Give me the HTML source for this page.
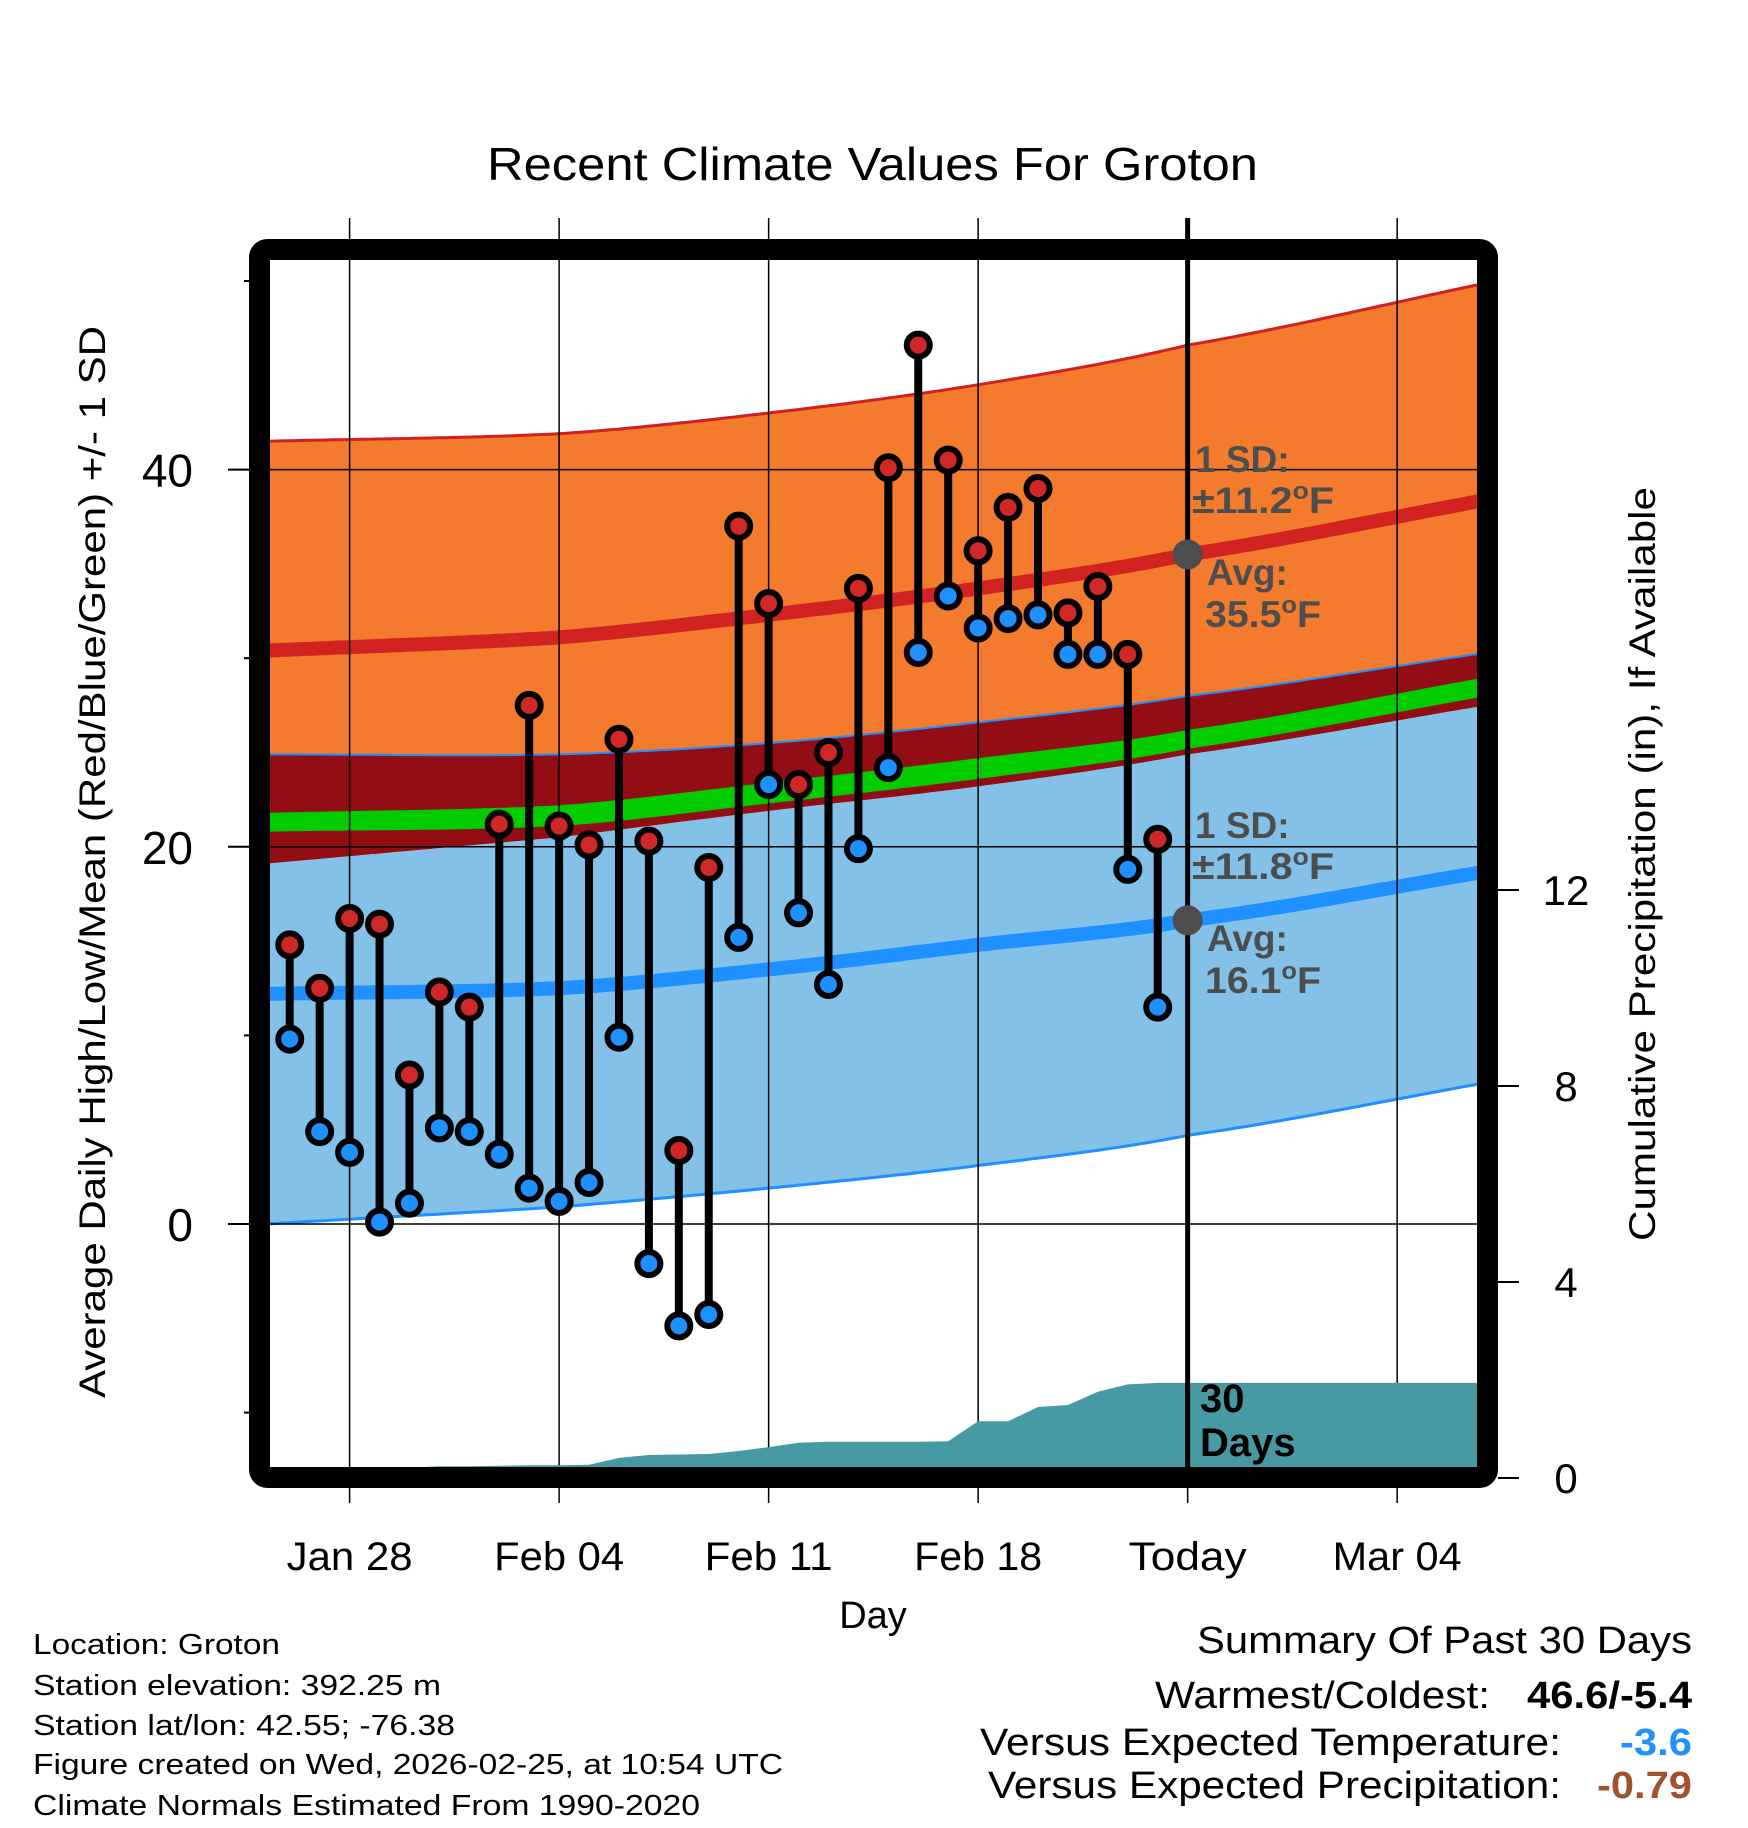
<!DOCTYPE html>
<html><head><meta charset="utf-8"><style>
html,body{margin:0;padding:0;background:#fff}
svg{display:block;font-family:"Liberation Sans",Arial,sans-serif}
</style></head><body>
<svg id="chart" width="1748" height="1828" viewBox="0 0 1748 1828" xmlns="http://www.w3.org/2000/svg">
<defs><clipPath id="plotclip"><rect x="270" y="260" width="1208" height="1208"/></clipPath></defs>
<text x="487" y="180" font-size="46" textLength="771" lengthAdjust="spacingAndGlyphs">Recent Climate Values For Groton</text>
<g id="bands" clip-path="url(#plotclip)"></g>
<g id="grid"></g>
<g id="precip" clip-path="url(#plotclip)"></g>
<g id="marks"></g>
<rect x="259.5" y="249.5" width="1228" height="1228" rx="8" fill="none" stroke="#000" stroke-width="21"/>
<g id="axes"></g>
<g font-weight="bold" fill="#4d4d4d" font-size="37">
<text x="1195" y="472">1 SD:</text>
<text x="1192" y="513" textLength="142" lengthAdjust="spacingAndGlyphs">±11.2<tspan font-size="24" dy="-14">o</tspan><tspan dy="14">F</tspan></text>
<text x="1207" y="585">Avg:</text>
<text x="1205" y="627" textLength="116" lengthAdjust="spacingAndGlyphs">35.5<tspan font-size="24" dy="-14">o</tspan><tspan dy="14">F</tspan></text>
<text x="1195" y="838">1 SD:</text>
<text x="1192" y="879" textLength="142" lengthAdjust="spacingAndGlyphs">±11.8<tspan font-size="24" dy="-14">o</tspan><tspan dy="14">F</tspan></text>
<text x="1207" y="951">Avg:</text>
<text x="1205" y="993" textLength="116" lengthAdjust="spacingAndGlyphs">16.1<tspan font-size="24" dy="-14">o</tspan><tspan dy="14">F</tspan></text>
</g>
<g font-weight="bold" font-size="40" fill="#000">
<text x="1200" y="1412">30</text><text x="1200" y="1456">Days</text>
</g>
<text x="873" y="1628" font-size="38" text-anchor="middle">Day</text>
<text transform="translate(105,862) rotate(-90)" font-size="37" x="-536" textLength="1072" lengthAdjust="spacingAndGlyphs">Average Daily High/Low/Mean (Red/Blue/Green) +/- 1 SD</text>
<text transform="translate(1655,864) rotate(-90)" font-size="37" x="-377" textLength="754" lengthAdjust="spacingAndGlyphs">Cumulative Precipitation (in), If Available</text>
<g font-size="29">
<text x="33" y="1654" textLength="247" lengthAdjust="spacingAndGlyphs">Location: Groton</text>
<text x="33" y="1695" textLength="408" lengthAdjust="spacingAndGlyphs">Station elevation: 392.25 m</text>
<text x="33" y="1735" textLength="422" lengthAdjust="spacingAndGlyphs">Station lat/lon: 42.55; -76.38</text>
<text x="33" y="1774" textLength="750" lengthAdjust="spacingAndGlyphs">Figure created on Wed, 2026-02-25, at 10:54 UTC</text>
<text x="33" y="1815" textLength="667" lengthAdjust="spacingAndGlyphs">Climate Normals Estimated From 1990-2020</text>
</g>
<g font-size="38">
<text x="1197" y="1653" textLength="495" lengthAdjust="spacingAndGlyphs">Summary Of Past 30 Days</text>
<text x="1155" y="1708" textLength="335" lengthAdjust="spacingAndGlyphs">Warmest/Coldest:</text>
<text x="1527" y="1708" font-weight="bold" textLength="165" lengthAdjust="spacingAndGlyphs">46.6/-5.4</text>
<text x="980" y="1755" textLength="581" lengthAdjust="spacingAndGlyphs">Versus Expected Temperature:</text>
<text x="1620" y="1755" font-weight="bold" fill="#1e90ff" textLength="72" lengthAdjust="spacingAndGlyphs">-3.6</text>
<text x="988" y="1798" textLength="573" lengthAdjust="spacingAndGlyphs">Versus Expected Precipitation:</text>
<text x="1597" y="1798" font-weight="bold" fill="#a0522d" textLength="95" lengthAdjust="spacingAndGlyphs">-0.79</text>
</g>
</svg>
<script>
const days = [-2,-1,0,1,2,3,4,5,6,7,8,9,10,11,12,13,14,15,16,17,18,19,20,21,22,23,24,25,26,27];
const highs = [14.8,12.5,16.2,15.9,7.9,12.3,11.5,21.2,27.5,21.1,20.1,25.7,20.3,3.9,18.9,37.0,32.9,23.3,25.0,33.7,40.1,46.6,40.5,35.7,38.0,39.0,32.4,33.8,30.2,20.4];
const lows = [9.8,4.9,3.8,0.1,1.1,5.1,4.9,3.7,1.9,1.2,2.2,9.9,-2.1,-5.4,-4.8,15.2,23.3,16.5,12.7,19.9,24.2,30.3,33.3,31.6,32.1,32.3,30.2,30.2,18.8,11.5];
const precip = [0,0,0,0,0.21,0.24,0.24,0.25,0.26,0.26,0.27,0.41,0.47,0.48,0.49,0.55,0.63,0.72,0.74,0.74,0.74,0.74,0.75,1.16,1.16,1.45,1.49,1.76,1.91,1.94];
const normDays = [-2.8,7,14,21,28,38.0];
const hiUpper = [41.5,41.9,43.0,44.5,46.6,49.9];
const hiMean = [30.4,31.1,32.3,33.7,35.5,38.4];
const hiLower = [24.9,24.9,25.5,26.6,28.0,30.3];
const greenTop = [21.8,22.2,23.4,24.7,26.2,29.0];
const greenBottom = [20.8,21.1,22.3,23.6,25.2,28.0];
const loUpper = [19.1,20.5,21.9,23.2,24.9,27.5];
const loMean = [12.2,12.5,13.5,14.8,16.1,18.7];
const loLower = [0.0,0.9,1.9,3.1,4.7,7.5];
const xTickDays = [0,7,14,21,28,35];
const xTickLabels = ["Jan 28","Feb 04","Feb 11","Feb 18","Today","Mar 04"];
const xTickWidths = [126,130,128,128,118,129];
const yTicks = [0,20,40];
const yMinor = [-10,10,30,50];
const pTicks = [0,4,8,12];
const todayDay = 28;

const NS="http://www.w3.org/2000/svg";
const X=d=>349.6+d*29.93;
const Y=t=>1224-t*18.86;
const P=p=>1478-p*49;
function mk(tag,attrs,parent){const e=document.createElementNS(NS,tag);for(const k in attrs)e.setAttribute(k,attrs[k]);parent.appendChild(e);return e;}
function interp(arr,d){
  const n=normDays.length;let i=0;
  while(i<n-2&&d>normDays[i+1])i++;
  const p1=arr[i],p2=arr[i+1];
  const p0=i>0?arr[i-1]:2*p1-p2, p3=i+2<n?arr[i+2]:2*p2-p1;
  const t=(d-normDays[i])/(normDays[i+1]-normDays[i]);
  const t2=t*t,t3=t2*t;
  return 0.5*((2*p1)+(-p0+p2)*t+(2*p0-5*p1+4*p2-p3)*t2+(-p0+3*p1-3*p2+p3)*t3);
}
function pts(arr){const r=[];for(let d=normDays[0];d<=normDays[normDays.length-1]+0.01;d+=0.25){r.push([X(d),Y(interp(arr,d))]);}return r;}
function band(top,bot,fill,name){
  const a=pts(top),b=pts(bot).reverse();
  const el=mk('path',{d:'M'+a.concat(b).map(p=>p[0].toFixed(1)+','+p[1].toFixed(1)).join('L')+'Z',fill:fill},document.getElementById('bands'));
  
  
}
function line(arr,color,w,name){
  const el=mk('path',{d:'M'+pts(arr).map(p=>p[0].toFixed(1)+','+p[1].toFixed(1)).join('L'),fill:'none',stroke:color,'stroke-width':w},document.getElementById('bands'));
  
  
}
band(hiUpper,loUpper,'#f47a2e','high-sd-band');
band(hiLower,loUpper,'#930d14','overlap-band');
band(greenTop,greenBottom,'#00cc00','mean-band');
band(loUpper,loLower,'#83c1e8','low-sd-band');
line(hiUpper,'#d02020',3,'high-upper-line');
line(hiLower,'#1e90ff',2,'overlap-top-line');
line(loLower,'#1e90ff',3,'low-lower-line');
line(hiMean,'#d22222',14,'high-mean-line');
line(loMean,'#1e90ff',14,'low-mean-line');

const grid=document.getElementById('grid');
yTicks.forEach(t=>{const l=mk('line',{x1:270,x2:1478,y1:Y(t),y2:Y(t),stroke:'#000','stroke-width':1.5},grid);

});
xTickDays.forEach(d=>{const l=mk('line',{x1:X(d),x2:X(d),y1:218,y2:1503,stroke:'#000','stroke-width':1.5},grid);

});

const pg=document.getElementById('precip');
let pd='M'+X(days[0])+','+P(0);
days.forEach((d,i)=>{pd+='L'+X(d).toFixed(1)+','+P(precip[i]).toFixed(1);});
pd+='L1478,'+P(precip[precip.length-1]).toFixed(1)+'L1478,'+P(0)+'Z';
const pa=mk('path',{d:pd,fill:'#479aa3'},pg);



const marks=document.getElementById('marks');
const tl=mk('line',{x1:X(todayDay),x2:X(todayDay),y1:218,y2:1478,stroke:'#000','stroke-width':5},marks);


const gd1=mk('circle',{cx:X(todayDay),cy:Y(interp(hiMean,todayDay)),r:15,fill:'#4d4d4d'},marks);


const gd2=mk('circle',{cx:X(todayDay),cy:Y(interp(loMean,todayDay)),r:15,fill:'#4d4d4d'},marks);


days.forEach((d,i)=>{
  const s=mk('line',{x1:X(d),x2:X(d),y1:Y(highs[i]),y2:Y(lows[i]),stroke:'#000','stroke-width':8},marks);
  
  
});
days.forEach((d,i)=>{
  const h=mk('circle',{cx:X(d),cy:Y(highs[i]),r:11.5,fill:'#d02828',stroke:'#000','stroke-width':6},marks);
  
  
  const l=mk('circle',{cx:X(d),cy:Y(lows[i]),r:11.5,fill:'#1e90ff',stroke:'#000','stroke-width':6},marks);
  
  
});

const axes=document.getElementById('axes');
yTicks.forEach(t=>{
  const tk=mk('line',{x1:228,x2:250,y1:Y(t),y2:Y(t),stroke:'#000','stroke-width':2},axes);
  
  
  const tx=mk('text',{x:193,y:Y(t)+17,'font-size':46,'text-anchor':'end'},axes);
  tx.textContent=String(t);
  
  
});
yMinor.forEach(t=>{
  const tk=mk('line',{x1:244,x2:250,y1:Y(t),y2:Y(t),stroke:'#000','stroke-width':2},axes);
  
  
});
pTicks.forEach(p=>{
  const tk=mk('line',{x1:1498,x2:1519,y1:P(p),y2:P(p),stroke:'#000','stroke-width':2},axes);
  
  
  const tx=mk('text',{x:1566,y:P(p)+15,'font-size':42,'text-anchor':'middle'},axes);
  tx.textContent=String(p);
  
  
});
xTickDays.forEach((d,i)=>{
  const tx=mk('text',{x:X(d)-xTickWidths[i]/2,y:1570,'font-size':40,textLength:xTickWidths[i],lengthAdjust:'spacingAndGlyphs'},axes);
  tx.textContent=xTickLabels[i];
  
  
});
</script>
</body></html>
